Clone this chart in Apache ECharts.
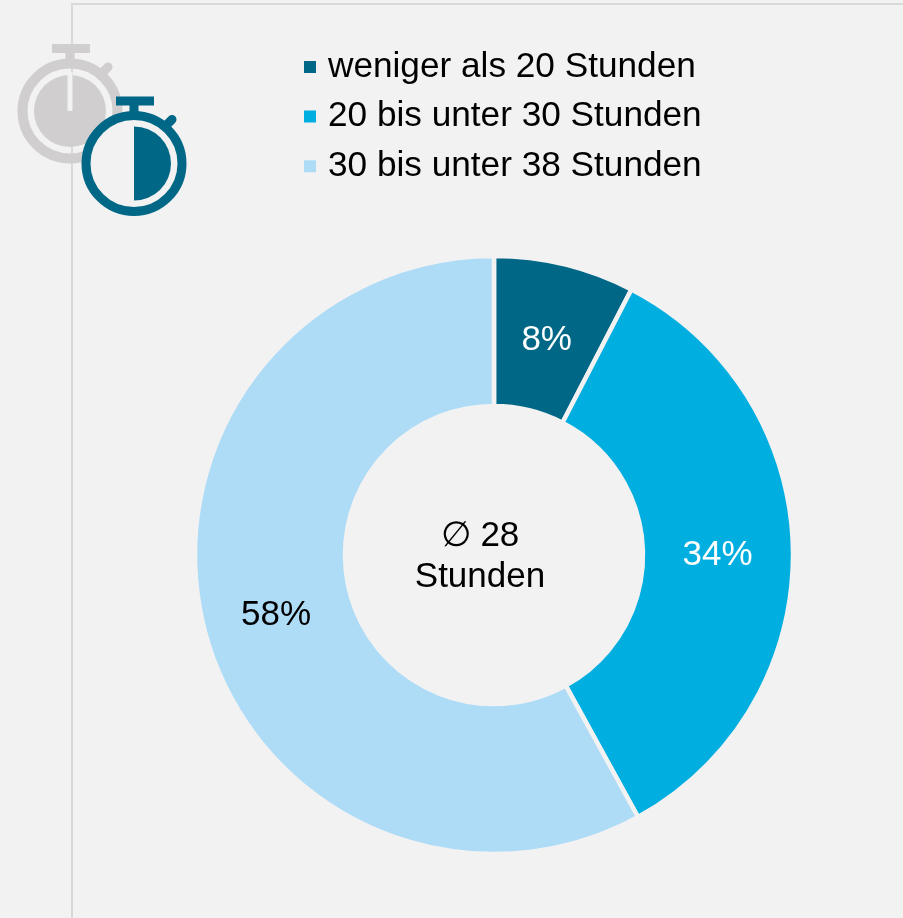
<!DOCTYPE html>
<html>
<head>
<meta charset="utf-8">
<style>html,body{margin:0;padding:0;background:#f2f2f2}#c{width:903px;height:918px}</style>
<script src="https://cdn.jsdelivr.net/npm/echarts@6/dist/echarts.min.js"></script>
</head>
<body>
<div id="c"></div>
<script>
const categories = ['weniger als 20 Stunden', '20 bis unter 30 Stunden', '30 bis unter 38 Stunden'];
const shares = [7.6, 34.4, 58];
const sliceColors = ['#006787', '#00aee0', '#aedcf7'];
const labelColors = ['#ffffff', '#ffffff', '#000000'];
const labelOffsets = [[-1, 6], [-3.5, 3], [2, 4]];
const centerLines = ['\u2205 28', 'Stunden'];
const FONT = '"Liberation Sans", Arial, sans-serif';
const BG = '#f2f2f2', GREY = '#d0cece', TEAL = '#006787', FRAME = '#d9d9d9';

function stopwatch(cx, cy, color, gapFill, ringWidth) {
  const dx = cx - 70, dy = cy - 110;
  return [
    {type:'rect', shape:{x:52+dx,y:43+dy,width:38,height:9}, style:{fill:color}},
    {type:'rect', shape:{x:65.5+dx,y:50+dy,width:9,height:12}, style:{fill:color}},
    {type:'line', shape:{x1:102+dx,y1:72+dy,x2:108+dx,y2:66+dy}, style:{stroke:color,lineWidth:9,lineCap:'round'}},
    {type:'circle', shape:{cx:cx,cy:cy,r:52.5-ringWidth/2}, style:{fill:gapFill,stroke:color,lineWidth:ringWidth}}
  ];
}

const chart = echarts.init(document.getElementById('c'), null, {renderer:'canvas'});
chart.setOption({
  backgroundColor: BG,
  animation: false,
  legend: {
    orient: 'vertical', left: 297, top: 44,
    data: categories, selectedMode: false,
    icon: 'rect', itemWidth: 14, itemHeight: 14, itemGap: 13.6,
    textStyle: {fontFamily: FONT, fontSize: 35.2, color: '#000', lineHeight: 36, padding: [0,0,0,6]}
  },
  series: [{
    type: 'pie',
    center: [494, 555],
    radius: [149, 299],
    startAngle: 90, clockwise: true,
    silent: true,
    itemStyle: {borderColor: '#f2f2f2', borderWidth: 4.5},
    label: {position: 'inside', formatter: p => Math.round(p.value) + '%', fontFamily: FONT, fontSize: 35},
    labelLine: {show: false},
    data: categories.map((name, i) => ({
      name, value: shares[i],
      itemStyle: {color: sliceColors[i]},
      label: {color: labelColors[i], offset: labelOffsets[i]}
    }))
  }],
  graphic: {elements: [
    {type:'line', z:-1, shape:{x1:72,y1:4,x2:72,y2:918}, style:{stroke:FRAME,lineWidth:2}},
    {type:'line', z:-1, shape:{x1:71,y1:4,x2:903,y2:4}, style:{stroke:FRAME,lineWidth:2}},
    ...stopwatch(70,111,GREY,'transparent',10),
    {type:'circle', shape:{cx:70,cy:111,r:36}, style:{fill:GREY}},
    {type:'rect', shape:{x:67.5,y:72,width:5,height:39}, style:{fill:BG}},
    ...stopwatch(134,163.5,TEAL,BG,9),
    {type:'sector', shape:{cx:134,cy:163.5,r0:0,r:37,startAngle:-Math.PI/2,endAngle:Math.PI/2,clockwise:true}, style:{fill:TEAL}},
    {type:'text', x:480, y:536, style:{text:centerLines[0],font:'35px '+FONT,fill:'#000',align:'center',verticalAlign:'middle'}},
    {type:'text', x:480, y:577, style:{text:centerLines[1],font:'35px '+FONT,fill:'#000',align:'center',verticalAlign:'middle'}}
  ]}
});
</script>
</body>
</html>
